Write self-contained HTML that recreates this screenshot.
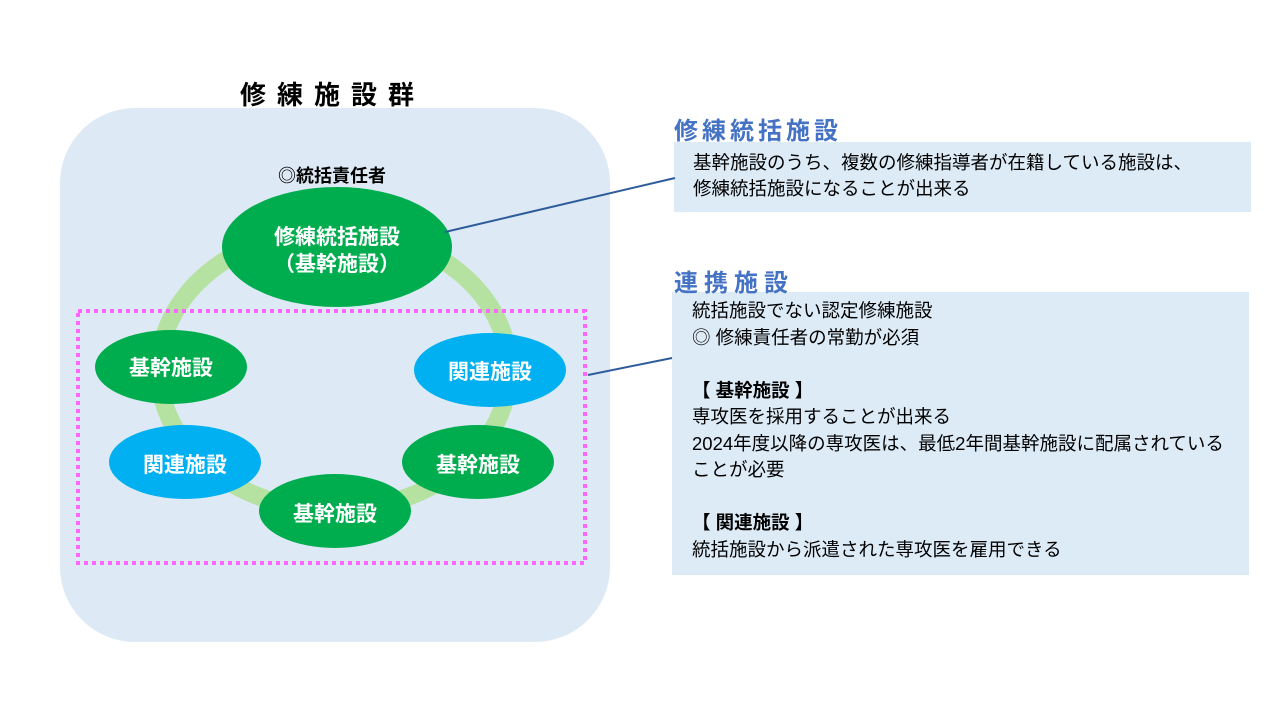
<!DOCTYPE html>
<html><head><meta charset="utf-8"><style>
body{margin:0;width:1280px;height:720px;background:#fff;position:relative;overflow:hidden;font-family:"Liberation Sans","Noto Sans CJK JP",sans-serif}
.t{position:absolute;white-space:nowrap}
</style></head><body>
<svg width="1280" height="720" style="position:absolute;left:0;top:0">
<rect x="60" y="108" width="550" height="534" rx="75" fill="#DDEAF6"/>
<ellipse cx="334" cy="370" rx="175" ry="140" fill="none" stroke="#B6E2A1" stroke-width="18"/>
<rect x="78" y="311" width="507" height="252" fill="none" stroke="#FF66FF" stroke-width="4" stroke-dasharray="4 4"/>
<ellipse cx="337" cy="247" rx="115" ry="60" fill="#00AD4E"/>
<ellipse cx="171" cy="367" rx="76" ry="37" fill="#00AD4E"/>
<ellipse cx="490" cy="370" rx="76" ry="37" fill="#00B0F0"/>
<ellipse cx="185" cy="462" rx="76" ry="37" fill="#00B0F0"/>
<ellipse cx="478" cy="462" rx="76" ry="37" fill="#00AD4E"/>
<ellipse cx="335" cy="511" rx="76" ry="37" fill="#00AD4E"/>
<rect x="674" y="142" width="577" height="70" fill="#DDEBF7"/>
<rect x="672" y="292" width="577" height="283" fill="#DDEBF7"/>
<line x1="445" y1="232" x2="675" y2="178" stroke="#2E5C9A" stroke-width="2"/>
<line x1="588" y1="375" x2="672" y2="358" stroke="#2E5C9A" stroke-width="2"/>
<g fill="#fff" font-size="21" font-weight="bold" text-anchor="middle" font-family="Liberation Sans,Noto Sans CJK JP,sans-serif">
<text x="337" y="244">修練統括施設</text>
<text x="337" y="271">（基幹施設）</text>
<text x="171" y="375">基幹施設</text>
<text x="490" y="379">関連施設</text>
<text x="185" y="472">関連施設</text>
<text x="478" y="472">基幹施設</text>
<text x="335" y="521">基幹施設</text>
</g>
</svg>
<div class="t" style="left:240px;top:75px;font-size:26px;font-weight:bold;letter-spacing:11px">修練施設群</div>
<div class="t" style="left:278px;top:162px;font-size:18px;font-weight:bold">◎統括責任者</div>
<div class="t" style="left:674px;top:111px;font-size:24px;font-weight:bold;color:#4472C4;letter-spacing:4px">修練統括施設</div>
<div class="t" style="left:674px;top:263px;font-size:24px;font-weight:bold;color:#4472C4;letter-spacing:6px">連携施設</div>
<div class="t" style="left:693px;top:150px;font-size:18.5px;line-height:26px">基幹施設のうち、複数の修練指導者が在籍している施設は、<br>修練統括施設になることが出来る</div>
<div class="t" style="left:692px;top:298px;font-size:18.5px;line-height:26.5px">統括施設でない認定修練施設<br>◎ 修練責任者の常勤が必須<br><br><b>【 基幹施設 】</b><br>専攻医を採用することが出来る<br>2024年度以降の専攻医は、最低2年間基幹施設に配属されている<br>ことが必要<br><br><b>【 関連施設 】</b><br>統括施設から派遣された専攻医を雇用できる</div>
</body></html>
